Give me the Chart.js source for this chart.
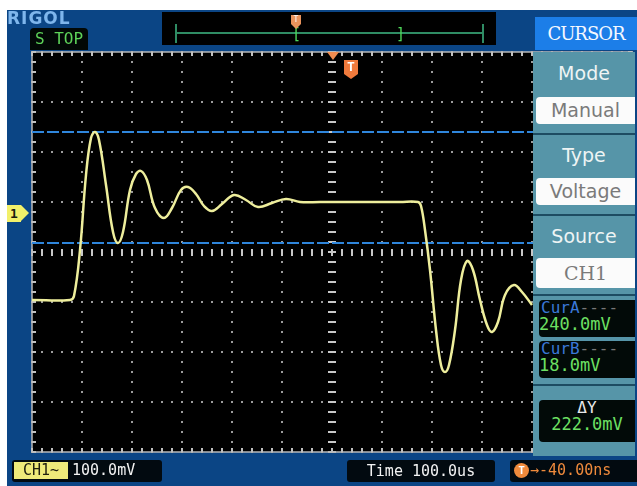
<!DOCTYPE html>
<html>
<head>
<meta charset="utf-8">
<script src="https://cdn.jsdelivr.net/npm/chart.js@4/dist/chart.umd.min.js"></script>
<style>
  html, body { margin: 0; padding: 0; background: #fff; }
  #screen { position: absolute; left: 7px; top: 10px; width: 630px; height: 476px; background: #0b4585; overflow: hidden; }
  #scope { position: absolute; left: 0; top: 0; }
  .ov { position: absolute; font-family: "DejaVu Sans Mono", monospace; }
  .menu { position: absolute; left: 535px; top: 14px; width: 102px; height: 442px; background: #5695a8; }
  .menu .lbl { position: absolute; left: 0; width: 102px; text-align: center; color: #eef4f4; font-family: "DejaVu Sans", sans-serif; font-size: 19px; }
  .menu .box { position: absolute; left: 3px; width: 99px; height: 27px; background: #fbfbfb; border-radius: 4px 0 0 4px; text-align: center; color: #7a7a7a; font-family: "DejaVu Sans", sans-serif; font-size: 19px; line-height: 27px; }
  .menu .sep { position: absolute; left: 0; width: 102px; height: 2px; background: #1d4c62; }
  .menu .val { position: absolute; left: 6px; width: 96px; background: #020a08; border-radius: 4px 0 0 4px; font-family: "DejaVu Sans Mono", monospace; font-size: 16px; line-height: 16px; }
</style>
</head>
<body>
<canvas id="scope" width="637" height="486"></canvas>
<div id="screen"></div>
<script>
// trace: time in us, level in mV (0 = screen centre)
const traceTimes = [-600, -524, -516, -504, -492, -482, -474, -466, -452, -438, -428, -418, -404, -392, -382, -370, -354, -336, -320, -302, -288, -272, -256, -240, -220, -196, -172, -148, -120, -92, -64, -24, 56, 136, 172, 178, 186, 196, 208, 218, 226, 234, 246, 258, 270, 282, 296, 310, 320, 332, 346, 364, 380, 400];
const traceVolts = [-96, -96, -88, 4, 154, 228, 240, 224, 134, 40, 18, 40, 124, 156, 162, 144, 88, 68, 88, 124, 130, 116, 92, 82, 96, 114, 104, 90, 98, 106, 100, 100, 100, 100, 100, 92, 44, -36, -156, -226, -240, -226, -156, -56, -18, -36, -96, -146, -160, -140, -86, -66, -80, -106];
const cursorLevels = [240, 18];
const timeRange = [-600, 600];
const voltRange = [-400, 400];
</script>
<script>
const screen = document.getElementById("screen");
const canvas = document.getElementById("scope");
screen.appendChild(canvas);
canvas.style.left = "-7px";
canvas.style.top = "-10px";

function dot(ctx, px, py) {
  ctx.fillRect(Math.round(px) - 1, Math.round(py) - 1, 2, 2);
}

const scopeGrid = {
  id: "scopeGrid",
  beforeDatasetsDraw(chart) {
    const { ctx, chartArea: a, scales: { x, y } } = chart;
    ctx.save();
    ctx.fillStyle = "#000";
    ctx.fillRect(a.left, a.top, a.right - a.left, a.bottom - a.top);

    ctx.fillStyle = "#9c9c9c";
    for (let t = timeRange[0]; t <= timeRange[1]; t += 100) {
      for (let v = voltRange[0]; v <= voltRange[1]; v += 20) dot(ctx, x.getPixelForValue(t), y.getPixelForValue(v));
    }
    for (let v = voltRange[0]; v <= voltRange[1]; v += 100) {
      for (let t = timeRange[0]; t <= timeRange[1]; t += 20) dot(ctx, x.getPixelForValue(t), y.getPixelForValue(v));
    }

    // centre cross ticks
    ctx.fillStyle = "#c8c8c8";
    const y0 = y.getPixelForValue(0);
    const x0 = x.getPixelForValue(0);
    for (let t = timeRange[0]; t <= timeRange[1]; t += 20) {
      ctx.fillRect(Math.round(x.getPixelForValue(t)) - 1, y0 - 3, 2, 7);
    }
    for (let v = voltRange[0]; v <= voltRange[1]; v += 20) {
      ctx.fillRect(x0 - 4, Math.round(y.getPixelForValue(v)) - 1, 8, 2);
    }

    // frame with edge ticks
    ctx.strokeStyle = "#b8b8b8";
    ctx.lineWidth = 1.5;
    ctx.strokeRect(a.left, a.top, a.right - a.left, a.bottom - a.top);
    ctx.fillStyle = "#c0c0c0";
    for (let t = timeRange[0]; t <= timeRange[1]; t += 20) {
      const px = Math.round(x.getPixelForValue(t));
      ctx.fillRect(px - 1, a.top, 2, 4);
      ctx.fillRect(px - 1, a.bottom - 4, 2, 4);
    }
    for (let v = voltRange[0]; v <= voltRange[1]; v += 20) {
      const py = Math.round(y.getPixelForValue(v));
      ctx.fillRect(a.left, py - 1, 4, 2);
      ctx.fillRect(a.right - 4, py - 1, 4, 2);
    }
    ctx.restore();
  }
};

const cursorSets = cursorLevels.map(level => ({
  data: [{ x: timeRange[0], y: level }, { x: timeRange[1], y: level }],
  borderColor: "#2f86dc",
  borderWidth: 2,
  borderDash: [12, 3],
  pointRadius: 0,
  tension: 0
}));

new Chart(canvas, {
  type: "line",
  data: {
    datasets: [
      {
        data: traceTimes.map((t, i) => ({ x: t, y: traceVolts[i] })),
        borderColor: "#eeee9c",
        borderWidth: 2.5,
        pointRadius: 0,
        tension: 0.4
      },
      ...cursorSets
    ]
  },
  options: {
    responsive: false,
    animation: false,
    devicePixelRatio: 1,
    layout: { padding: { left: 32, top: 52, right: 5, bottom: 34 } },
    plugins: { legend: { display: false }, tooltip: { enabled: false } },
    scales: {
      x: { type: "linear", display: false, min: timeRange[0], max: timeRange[1] },
      y: { type: "linear", display: false, min: voltRange[0], max: voltRange[1] }
    }
  },
  plugins: [scopeGrid]
});

// overlays (screen coords are page coords minus 7,10)
function add(html) {
  screen.insertAdjacentHTML("beforeend", html);
}
const P = (x, y) => `left:${x - 7}px;top:${y - 10}px;`;

add(`<div class="ov" style="${P(7, 10)}color:#7fb6ec;font-family:'DejaVu Sans',sans-serif;font-size:17px;font-weight:bold;letter-spacing:1px;line-height:17px;">RIGOL</div>`);
add(`<div class="ov" style="${P(30, 28)}width:58px;height:22px;background:#020806;border-radius:4px 4px 0 0;color:#5ed35a;font-size:16px;line-height:22px;text-align:center;">S TOP</div>`);

// top memory bar
add(`<div class="ov" style="${P(162, 12)}width:334px;height:33px;background:#000;"></div>`);
add(`<div class="ov" style="${P(176, 32)}width:307px;height:2px;background:#2f8c64;"></div>`);
add(`<div class="ov" style="${P(175, 24)}width:2px;height:19px;background:#2f8c64;"></div>`);
add(`<div class="ov" style="${P(482, 24)}width:2px;height:19px;background:#2f8c64;"></div>`);
add(`<div class="ov" style="${P(292, 27)}color:#4ed85a;font-size:15px;line-height:15px;">[</div>`);
add(`<div class="ov" style="${P(396, 27)}color:#4ed85a;font-size:15px;line-height:15px;">]</div>`);
add(`<div class="ov" style="${P(291, 15)}width:10px;height:9px;background:#e9935c;color:#fff;font-size:8px;line-height:9px;text-align:center;">T</div>`);
add(`<div class="ov" style="${P(291, 24)}width:0;height:0;border-left:5px solid transparent;border-right:5px solid transparent;border-top:5px solid #e9935c;"></div>`);

// trigger markers on grid
add(`<div class="ov" style="${P(327, 52)}width:0;height:0;border-left:6px solid transparent;border-right:6px solid transparent;border-top:8px solid #f08c50;"></div>`);
add(`<div class="ov" style="${P(344, 60)}width:14px;height:14px;background:#f07a3c;color:#fff;font-size:13px;font-weight:bold;line-height:14px;text-align:center;">T</div>`);
add(`<div class="ov" style="${P(344, 74)}width:0;height:0;border-left:7px solid transparent;border-right:7px solid transparent;border-top:5px solid #f07a3c;"></div>`);

// channel marker
add(`<div class="ov" style="${P(7, 205)}width:14px;height:17px;background:#f2f06a;color:#1a1a10;font-size:13px;font-weight:bold;line-height:17px;text-align:center;">1</div>`);
add(`<div class="ov" style="${P(21, 205)}width:0;height:0;border-top:8.5px solid transparent;border-bottom:8.5px solid transparent;border-left:8px solid #f2f06a;"></div>`);

// right menu
add(`<div class="ov" style="${P(535, 17)}width:102px;height:33px;background:#1c7ee8;color:#f4f8ff;font-family:'DejaVu Serif',serif;font-size:18px;line-height:33px;text-align:center;letter-spacing:-1px;">CURSOR</div>`);
add(`<div class="menu" style="${P(533, 52)}height:404px;">
  <div class="lbl" style="top:10px;">Mode</div>
  <div class="box" style="top:45px;">Manual</div>
  <div class="sep" style="top:81px;"></div>
  <div class="lbl" style="top:92px;">Type</div>
  <div class="box" style="top:126px;">Voltage</div>
  <div class="sep" style="top:162px;"></div>
  <div class="lbl" style="top:173px;">Source</div>
  <div class="box" style="top:206px;height:30px;line-height:30px;font-family:'DejaVu Serif',serif;">CH1</div>
  <div class="sep" style="top:242px;"></div>
  <div class="val" style="top:248px;height:37px;"><span style="color:#3a78d8;padding-left:2px;">CurA</span><span style="color:#777;">----</span><br><span style="color:#6de063;font-size:17px;">240.0mV</span></div>
  <div class="val" style="top:289px;height:37px;"><span style="color:#3a78d8;padding-left:2px;">CurB</span><span style="color:#777;">----</span><br><span style="color:#6de063;font-size:17px;">18.0mV</span></div>
  <div class="sep" style="top:332px;"></div>
  <div class="val" style="top:348px;height:42px;text-align:center;"><span style="color:#e8e8e8;">&Delta;Y</span><br><span style="color:#6de063;font-size:17px;">222.0mV</span></div>
</div>`);

// bottom status
add(`<div class="ov" style="${P(12, 460)}width:150px;height:22px;background:#020a10;border-radius:3px;"></div>`);
add(`<div class="ov" style="${P(14, 462)}width:54px;height:17px;background:#eeea7a;color:#202010;font-size:15px;line-height:17px;text-align:center;">CH1~</div>`);
add(`<div class="ov" style="${P(72, 461)}color:#f2f2f2;font-size:15px;line-height:19px;">100.0mV</div>`);
add(`<div class="ov" style="${P(347, 460)}width:148px;height:22px;background:#020a10;border-radius:3px;color:#f2f2f2;font-size:15px;line-height:22px;text-align:center;">Time 100.0us</div>`);
add(`<div class="ov" style="${P(510, 460)}width:127px;height:22px;background:#020a10;border-radius:3px 0 0 3px;"></div>`);
add(`<div class="ov" style="${P(514, 463)}width:15px;height:15px;border-radius:8px;background:#ef8a3c;color:#fff;font-size:11px;font-weight:bold;line-height:15px;text-align:center;">T</div>`);
add(`<div class="ov" style="${P(530, 461)}color:#ef8a3c;font-size:15px;line-height:19px;">&rarr;-40.00ns</div>`);
</script>
</body>
</html>
